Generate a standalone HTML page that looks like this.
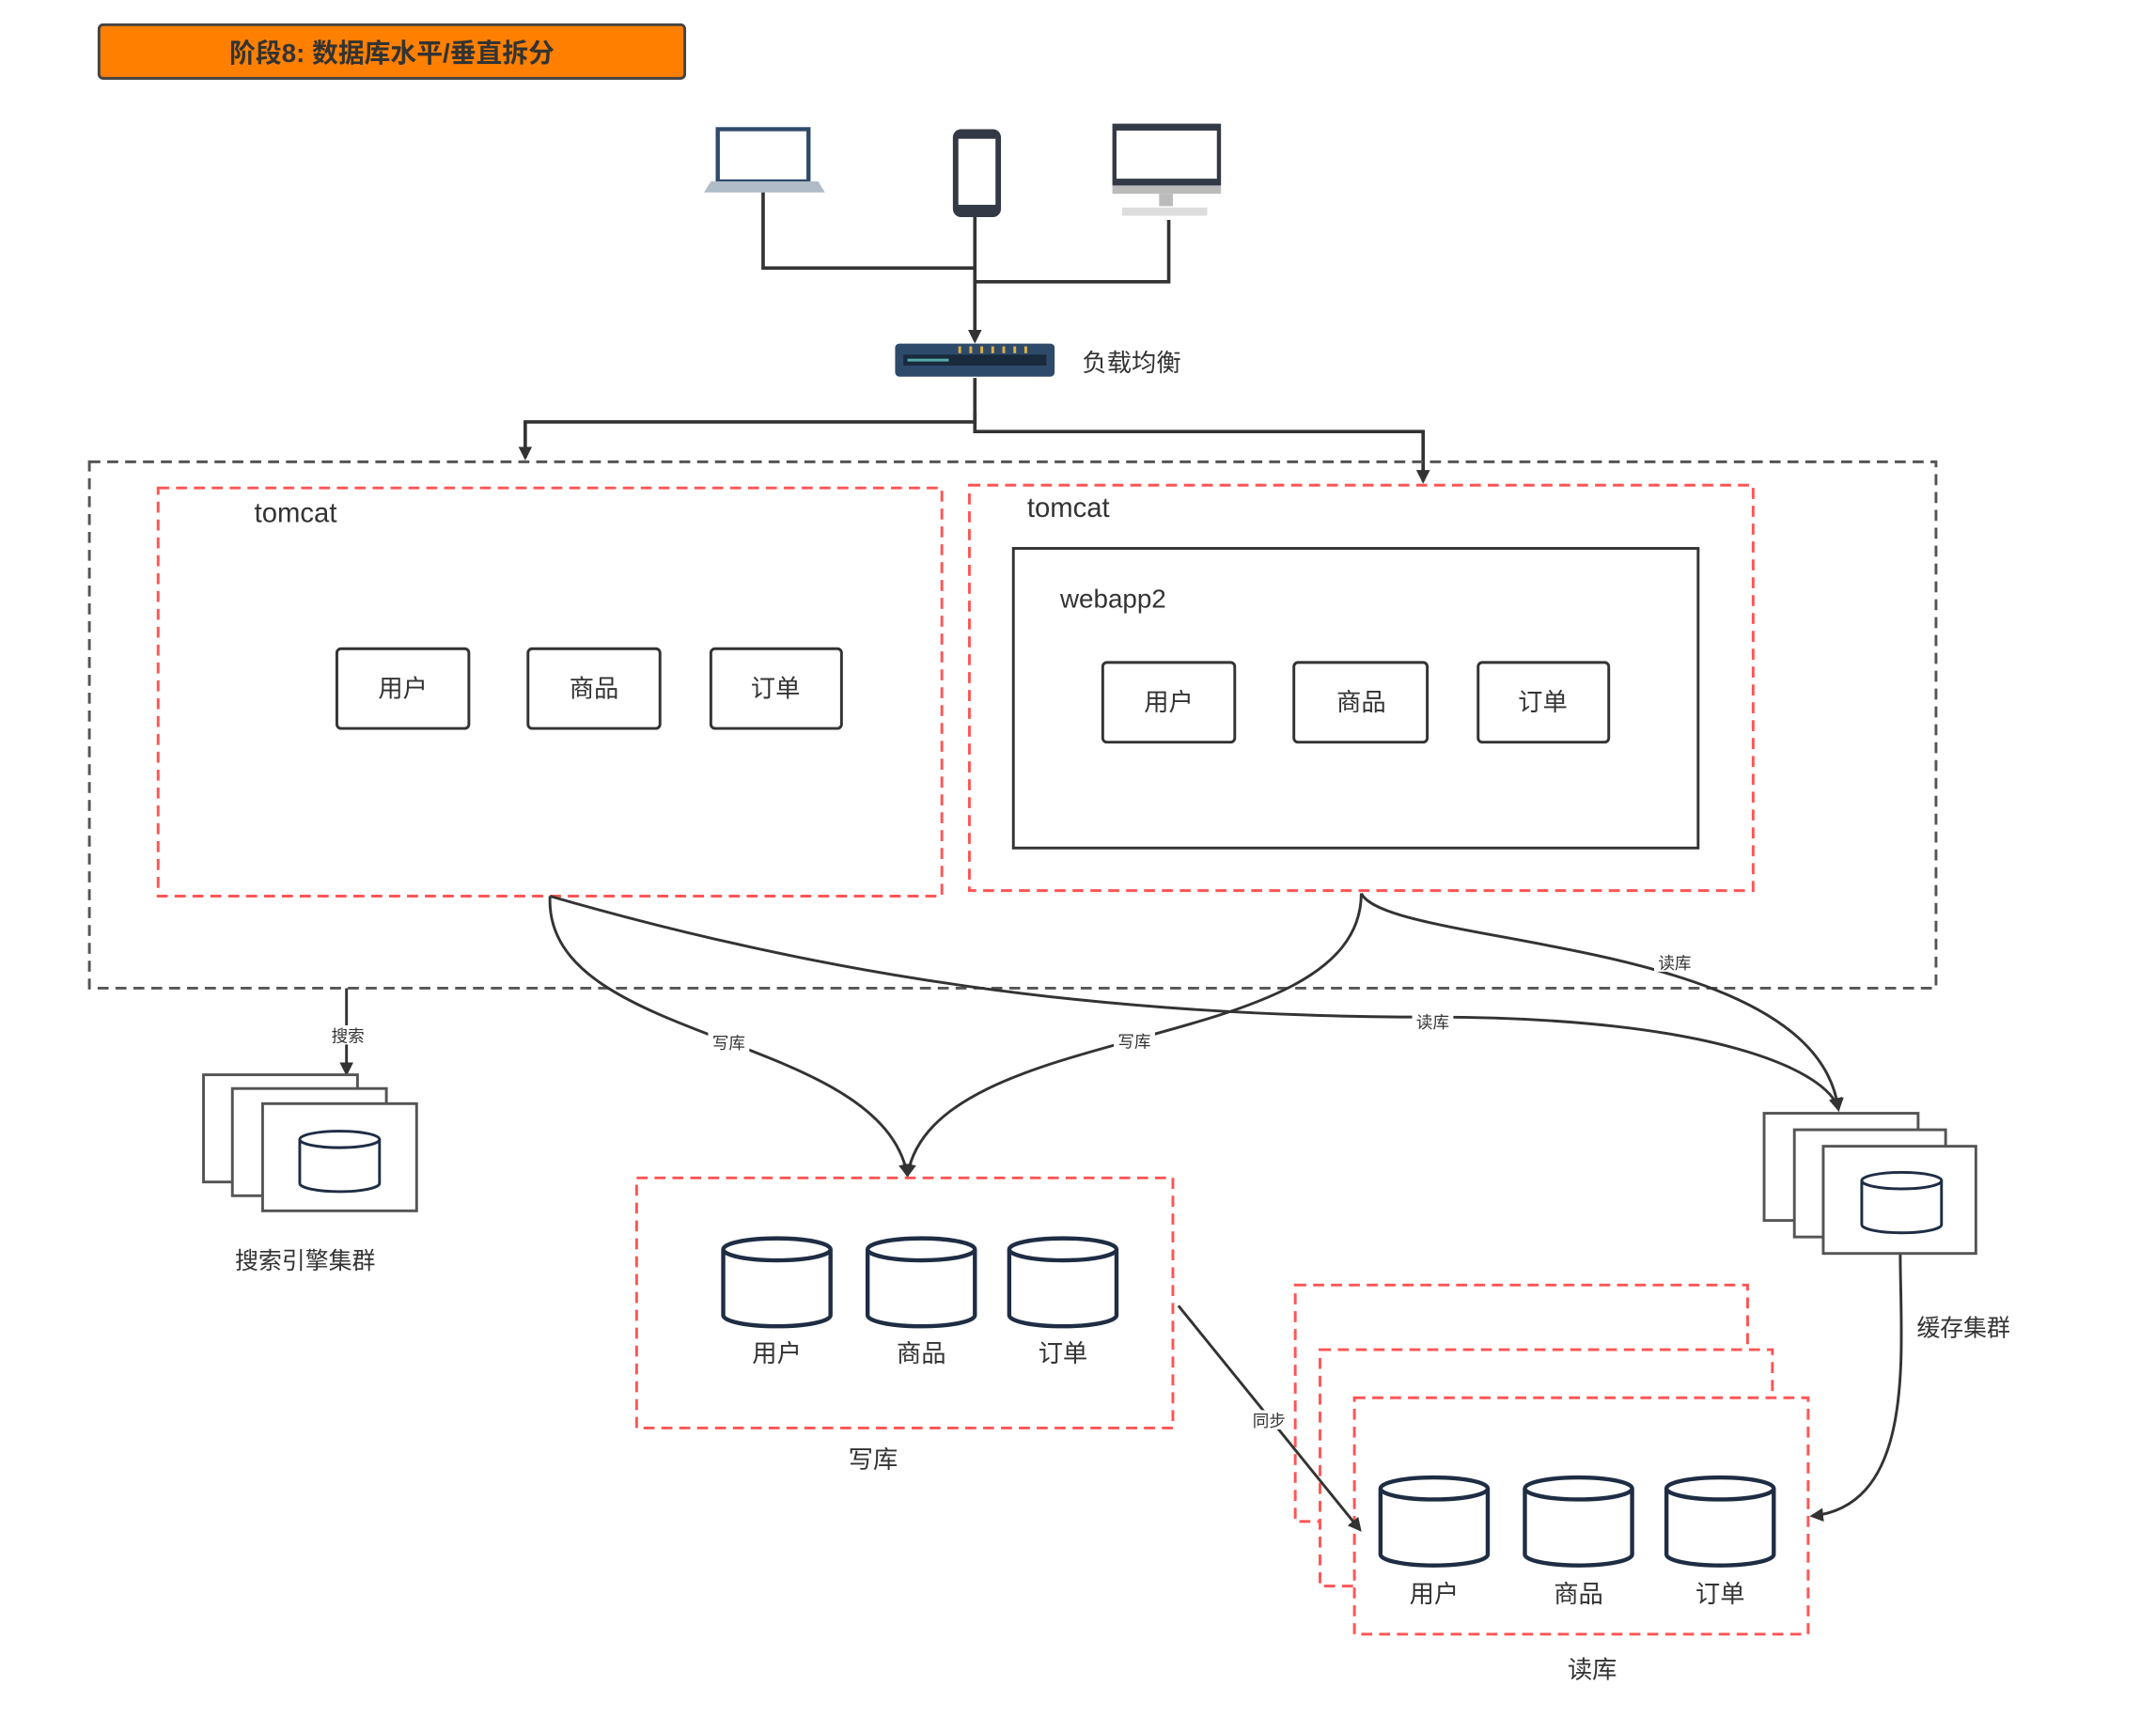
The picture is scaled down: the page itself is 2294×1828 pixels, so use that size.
<!DOCTYPE html>
<html><head><meta charset="utf-8"><style>
html,body{margin:0;padding:0;background:#fff;}
svg{display:block;}
text{font-family:"Liberation Sans","Noto Sans CJK SC",sans-serif;fill:#333;}
</style></head><body>
<svg width="2294" height="1828" viewBox="0 0 1568 1250" preserveAspectRatio="none" xmlns="http://www.w3.org/2000/svg">
<defs>
<marker id="ar" markerWidth="10" markerHeight="10" refX="8" refY="5" orient="auto" markerUnits="userSpaceOnUse"><path d="M0,0 L10,5 L0,10 Z" fill="#333"/></marker>
<g id="cyl">
<path d="M-39,-24 L-39,24 A39,8 0 0 0 39,24 L39,-24" fill="#fff" stroke="#1f2d44" stroke-width="3"/>
<ellipse cx="0" cy="-24" rx="39" ry="8" fill="#fff" stroke="#1f2d44" stroke-width="3"/>
</g>
<g id="cyls">
<path d="M-29,-16 L-29,16 A29,6 0 0 0 29,16 L29,-16" fill="#fff" stroke="#1f2d44" stroke-width="2"/>
<ellipse cx="0" cy="-16" rx="29" ry="6" fill="#fff" stroke="#1f2d44" stroke-width="2"/>
</g>
</defs>
<rect width="1568" height="1250" fill="#fff"/>
<rect x="72" y="18" width="426" height="39" rx="3" fill="#FF8000" stroke="#444" stroke-width="2"/>
<text x="285" y="45" text-anchor="middle" font-size="19" font-weight="bold">阶段8: 数据库水平/垂直拆分</text>
<rect x="522" y="94" width="66" height="38" fill="#fff" stroke="#2e4a6b" stroke-width="3"/>
<path d="M517,132 L595,132 L600,140 L512,140 Z" fill="#b0bcc8"/>
<rect x="693" y="94" width="35" height="64" rx="6" fill="#333a45"/>
<rect x="697" y="101" width="27" height="48" fill="#fff"/>
<rect x="809" y="90" width="79" height="45" fill="#333a45"/>
<rect x="812" y="95" width="73" height="35" fill="#fff"/>
<rect x="809" y="135" width="79" height="6" fill="#bbb"/>
<rect x="843" y="141" width="10" height="9" fill="#bbb"/>
<rect x="816" y="151" width="62" height="6" fill="#ddd"/>
<g stroke="#333" stroke-width="2.5" fill="none">
<path d="M555,140 V195 H709"/>
<path d="M850,160 V205 H709"/>
<path d="M709,158 V248" marker-end="url(#ar)"/>
<path d="M709,275 V307 H382 V333" marker-end="url(#ar)"/>
<path d="M709,300 V314 H1035 V350" marker-end="url(#ar)"/>
</g>
<rect x="651" y="250" width="116" height="24" rx="3" fill="#2e4a6b"/>
<rect x="657" y="258" width="104" height="8" fill="#1a2a3d"/>
<rect x="660" y="261" width="30" height="2" fill="#5aa"/>
<g fill="#e0b040"><rect x="697" y="252" width="2" height="5"/><rect x="705" y="252" width="2" height="5"/><rect x="713" y="252" width="2" height="5"/><rect x="721" y="252" width="2" height="5"/><rect x="729" y="252" width="2" height="5"/><rect x="737" y="252" width="2" height="5"/><rect x="745" y="252" width="2" height="5"/></g>
<text x="787" y="270" font-size="18">负载均衡</text>
<rect x="65" y="336" width="1343" height="383" fill="none" stroke="#555" stroke-width="2" stroke-dasharray="8,5"/>
<rect x="115" y="355" width="570" height="297" fill="none" stroke="#f55" stroke-width="2" stroke-dasharray="8,5"/>
<text x="185" y="380" font-size="20">tomcat</text>
<g stroke="#333" stroke-width="2" fill="#fff">
<rect x="245" y="472" width="96" height="58" rx="3"/>
<rect x="384" y="472" width="96" height="58" rx="3"/>
<rect x="517" y="472" width="95" height="58" rx="3"/>
</g>
<text x="293" y="507" font-size="18" text-anchor="middle">用户</text>
<text x="432" y="507" font-size="18" text-anchor="middle">商品</text>
<text x="564" y="507" font-size="18" text-anchor="middle">订单</text>
<rect x="705" y="353" width="570" height="295" fill="none" stroke="#f55" stroke-width="2" stroke-dasharray="8,5"/>
<text x="747" y="376" font-size="20">tomcat</text>
<rect x="737" y="399" width="498" height="218" fill="none" stroke="#333" stroke-width="2"/>
<text x="771" y="442" font-size="19">webapp2</text>
<g stroke="#333" stroke-width="2" fill="#fff">
<rect x="802" y="482" width="96" height="58" rx="3"/>
<rect x="941" y="482" width="97" height="58" rx="3"/>
<rect x="1075" y="482" width="95" height="58" rx="3"/>
</g>
<text x="850" y="517" font-size="18" text-anchor="middle">用户</text>
<text x="990" y="517" font-size="18" text-anchor="middle">商品</text>
<text x="1122" y="517" font-size="18" text-anchor="middle">订单</text>
<g stroke="#333" stroke-width="2" fill="none">
<path d="M400,652 C395,760 640,750 660,855" marker-end="url(#ar)"/>
<path d="M990,650 C990,770 680,740 660,855" marker-end="url(#ar)"/>
<path d="M400,652 C600,710 800,740 1040,740 C1250,740 1330,780 1337,807" marker-end="url(#ar)"/>
<path d="M990,650 C1010,690 1320,680 1337,807" marker-end="url(#ar)"/>
<path d="M252,719 V781" marker-end="url(#ar)"/>
<path d="M1382,912 C1382,980 1395,1095 1318,1103" marker-end="url(#ar)"/>
</g>
<g font-size="12" text-anchor="middle">
<rect x="238" y="746" width="30" height="14" fill="#fff"/><text x="253" y="758">搜索</text>
<rect x="515" y="751" width="30" height="14" fill="#fff"/><text x="530" y="763">写库</text>
<rect x="810" y="750" width="30" height="14" fill="#fff"/><text x="825" y="762">写库</text>
<rect x="1027" y="736" width="30" height="14" fill="#fff"/><text x="1042" y="748">读库</text>
<rect x="1203" y="693" width="30" height="14" fill="#fff"/><text x="1218" y="705">读库</text>
</g>
<g stroke="#555" stroke-width="2" fill="#fff">
<rect x="148" y="782" width="112" height="78"/>
<rect x="169" y="792" width="112" height="78"/>
<rect x="191" y="803" width="112" height="78"/>
</g>
<use href="#cyls" x="247" y="845"/>
<text x="222" y="923" font-size="17" text-anchor="middle">搜索引擎集群</text>
<g stroke="#555" stroke-width="2" fill="#fff">
<rect x="1283" y="810" width="112" height="78"/>
<rect x="1305" y="822" width="110" height="78"/>
<rect x="1326" y="834" width="111" height="78"/>
</g>
<use href="#cyls" x="1383" y="875"/>
<text x="1428" y="972" font-size="17" text-anchor="middle">缓存集群</text>
<rect x="463" y="857" width="390" height="182" fill="none" stroke="#f55" stroke-width="2" stroke-dasharray="8,5"/>
<use href="#cyl" x="565" y="933"/><use href="#cyl" x="670" y="933"/><use href="#cyl" x="773" y="933"/>
<text x="565" y="991" font-size="18" text-anchor="middle">用户</text>
<text x="670" y="991" font-size="18" text-anchor="middle">商品</text>
<text x="773" y="991" font-size="18" text-anchor="middle">订单</text>
<text x="635" y="1068" font-size="18" text-anchor="middle">写库</text>
<rect x="942" y="935" width="329" height="172" fill="#fff" stroke="#f55" stroke-width="2" stroke-dasharray="8,5"/>
<rect x="960" y="982" width="329" height="172" fill="#fff" stroke="#f55" stroke-width="2" stroke-dasharray="8,5"/>
<rect x="985" y="1017" width="330" height="172" fill="#fff" stroke="#f55" stroke-width="2" stroke-dasharray="8,5"/>
<path d="M857,950 L989,1113" stroke="#333" stroke-width="2" fill="none" marker-end="url(#ar)"/>
<rect x="908" y="1026" width="30" height="14" fill="#fff"/><text x="923" y="1038" font-size="12" text-anchor="middle">同步</text>
<use href="#cyl" x="1043" y="1107"/><use href="#cyl" x="1148" y="1107"/><use href="#cyl" x="1251" y="1107"/>
<text x="1043" y="1166" font-size="18" text-anchor="middle">用户</text>
<text x="1148" y="1166" font-size="18" text-anchor="middle">商品</text>
<text x="1251" y="1166" font-size="18" text-anchor="middle">订单</text>
<text x="1158" y="1221" font-size="18" text-anchor="middle">读库</text>
</svg>
</body></html>
